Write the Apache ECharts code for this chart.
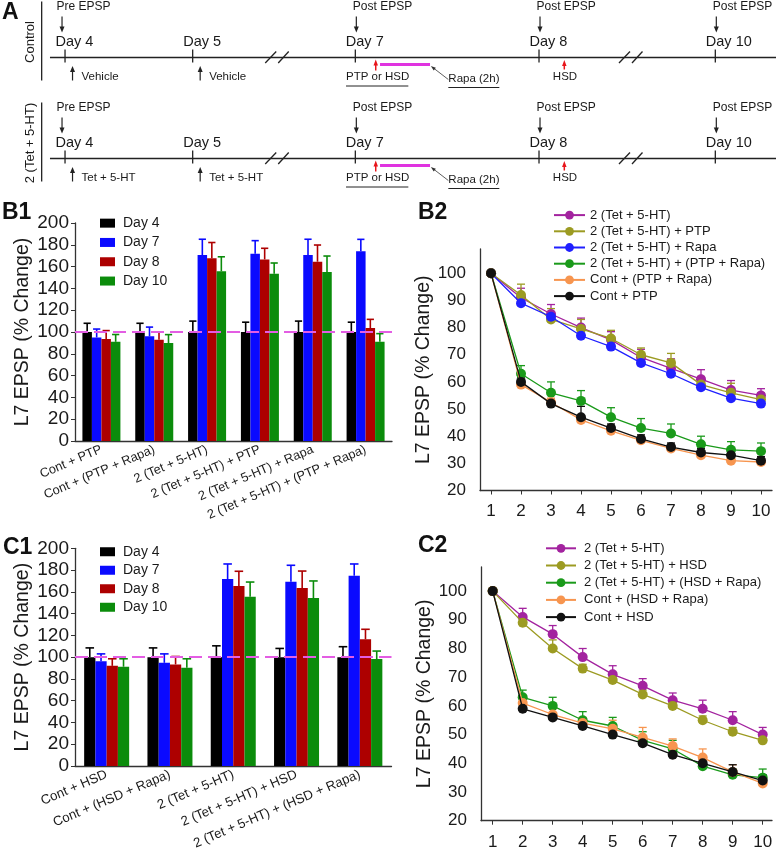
<!DOCTYPE html>
<html><head><meta charset="utf-8">
<script src="https://cdn.jsdelivr.net/npm/echarts@6/dist/echarts.min.js"></script>
<style>html,body{margin:0;padding:0;background:#fff}#c{width:776px;height:853px}</style>
</head><body><div id="c"></div>
<script>
// ================= DATA =================
// Panel A (schematic timeline)
const rowNames = ['Control', '2 (Tet + 5-HT)'];
const dayNames = ['Day 4', 'Day 5', 'Day 7', 'Day 8', 'Day 10'];
const epspNames = ['Pre EPSP', '', 'Post EPSP', 'Post EPSP', 'Post EPSP'];
const treatNames = [['Vehicle', 'Vehicle', '', '', ''], ['Tet + 5-HT', 'Tet + 5-HT', '', '', '']];
const dayPos = [8.38, 24.83, 45.79, 69.46, 92.18];   // schematic position along timeline (% width)
const breakPos = [35.66, 81.25];
const timelineStart = 6.44;
const rowLabelPos = 3.87;
const rowLinePos = 5.37;

// B1 / C1 bar charts
const dayLegend = ['Day 4', 'Day 7', 'Day 8', 'Day 10'];
const b1Cats = ['Cont + PTP', 'Cont + (PTP + Rapa)', '2 (Tet + 5-HT)', '2 (Tet + 5-HT) + PTP', '2 (Tet + 5-HT) + Rapa', '2 (Tet + 5-HT) + (PTP + Rapa)'];
const b1Day4 = [100, 100, 100, 100, 100, 100];
const b1Day7 = [95, 96, 170.6, 171.8, 170.6, 174];
const b1Day8 = [93.6, 92.8, 167.6, 166.6, 164.5, 103.6];
const b1Day10 = [91, 89.8, 155.7, 153.5, 155, 91];
const b1Day4Err = [8, 8, 10, 9, 10, 9];
const b1Day7Err = [7.7, 8.5, 14.5, 12, 14.5, 11];
const b1Day8Err = [7.7, 7.2, 14.5, 10.2, 15.3, 8];
const b1Day10Err = [6.7, 7.8, 13.3, 9.8, 14.7, 7.5];

const c1Cats = ['Cont + HSD', 'Cont + (HSD + Rapa)', '2 (Tet + 5-HT)', '2 (Tet + 5-HT) + HSD', '2 (Tet + 5-HT) + (HSD + Rapa)'];
const c1Day4 = [100, 100, 100, 100, 100];
const c1Day7 = [96.3, 94.8, 171.8, 169.3, 174.8];
const c1Day8 = [92, 93.3, 165.4, 163.5, 116.4];
const c1Day10 = [91.2, 90.2, 155.6, 154.3, 98.3];
const c1Day4Err = [8.5, 8.5, 10.4, 8, 9.6];
const c1Day7Err = [6.7, 8.2, 13.8, 15.1, 10.8];
const c1Day8Err = [6.5, 7.3, 13.5, 15.6, 9.2];
const c1Day10Err = [7.3, 8.3, 13.4, 15.7, 7.3];

// B2 / C2 line charts
const trials = [1, 2, 3, 4, 5, 6, 7, 8, 9, 10];
const lineTicks = [20, 30, 40, 50, 60, 70, 80, 90, 100];
const b2Names = ['2 (Tet + 5-HT)', '2 (Tet + 5-HT) + PTP', '2 (Tet + 5-HT) + Rapa', '2 (Tet + 5-HT) + (PTP + Rapa)', 'Cont + (PTP + Rapa)', 'Cont + PTP'];
const b2Tet = [100, 91, 85, 80, 75.5, 69, 65, 61, 57, 55];
const b2PTP = [100, 92, 83, 79.5, 76, 70, 67, 59, 56, 53.5];
const b2Rapa = [100, 89, 84, 77, 73, 67, 63, 58, 54, 52];
const b2Both = [100, 63, 56, 53, 47, 43, 41, 37, 35, 34.5];
const b2ContBoth = [100, 59, 52.5, 46, 42, 38.5, 35.5, 33, 31, 30.5];
const b2ContPTP = [100, 60, 52, 47, 43, 39, 36, 34, 33, 31];
const b2TetErr = [0, 3.5, 3.5, 3.5, 3, 3, 3.5, 3.5, 3.5, 2.5];
const b2PTPErr = [0, 4, 4, 3.5, 3, 2.5, 3.5, 3, 3.5, 2.5];
const b2RapaErr = [0, 1.5, 1.5, 1.5, 1.5, 1.5, 1.5, 1.5, 1.5, 1.5];
const b2BothErr = [0, 3, 4, 3.8, 3.5, 3.5, 3.5, 3, 3, 3];
const b2ContBothErr = [0, 1.5, 1.5, 1.5, 1.5, 1.5, 1.5, 1.5, 1.5, 1.5];
const b2ContPTPErr = [0, 1.5, 1.5, 4, 1.5, 1.5, 1.5, 1.5, 1.5, 1.5];

const c2Names = ['2 (Tet + 5-HT)', '2 (Tet + 5-HT) + HSD', '2 (Tet + 5-HT) + (HSD + Rapa)', 'Cont + (HSD + Rapa)', 'Cont + HSD'];
const c2Tet = [100, 91, 85, 77, 71, 67, 62, 59, 55, 50];
const c2HSD = [100, 89, 80, 73, 69, 64, 60, 55, 51, 48];
const c2Both = [100, 63, 60, 55, 53, 48, 45, 39, 36, 35];
const c2ContBoth = [100, 61, 57, 54, 52, 49, 46, 42, 37, 33];
const c2ContHSD = [100, 59, 56, 53, 50, 47, 43, 40, 37, 34];
const c2TetErr = [0, 3, 3, 3, 3, 2.5, 2.5, 3, 3, 2.5];
const c2HSDErr = [0, 1.5, 3, 1.5, 1.5, 1.5, 1.5, 1.5, 1.5, 1.5];
const c2BothErr = [0, 2.5, 3, 3, 3, 3, 3, 3, 2, 3];
const c2ContBothErr = [0, 2, 2, 2, 3, 3.5, 2.5, 3, 2.5, 2];
const c2ContHSDErr = [0, 1.5, 1.5, 1.5, 1.5, 1.5, 1.5, 1.5, 2.5, 2];

// ================= STYLE =================
const FF = '"Liberation Sans", Arial, Helvetica, sans-serif';
const TXT = '#1a1a1a';
const AX = '#333';
const barColors = ['#000000', '#0a0aff', '#ad0000', '#0b8c0b'];
const cTet = '#a3239f', cMid = '#9c9b22', cRapa = '#2020ff', cBoth = '#1a9a1a', cCont2 = '#f7954f', cCont = '#111111';
const dashColor = '#e35de3';

// ================= HELPERS =================
function seg(x1, y1, x2, y2, stroke, w) {
  return { type: 'line', shape: { x1, y1, x2, y2 }, style: { stroke, lineWidth: w } };
}
function arrow(x1, y1, x2, y2, stroke, w, hl, hw) {
  const dx = x2 - x1, dy = y2 - y1, L = Math.hypot(dx, dy), ux = dx / L, uy = dy / L;
  const bx = x2 - ux * hl, by = y2 - uy * hl;
  return [seg(x1, y1, bx + ux, by + uy, stroke, w),
    { type: 'polygon', shape: { points: [[x2, y2], [bx - uy * hw / 2, by + ux * hw / 2], [bx + uy * hw / 2, by - ux * hw / 2]] }, style: { fill: stroke } }];
}
function txt(x, y, text, size, extra) {
  return { type: 'text', x, y, style: Object.assign({ text, fontSize: size, fontFamily: FF, fill: TXT, align: 'left', verticalAlign: 'middle' }, extra || {}) };
}

function renderA(params, api) {
  const r = api.value(1), d = api.value(2);
  const c = api.coord([api.value(0), r]);
  const x = c[0], y0 = c[1] + 7;
  const k = [];
  if (d < 0) {
    const xe = api.coord([100, r])[0];
    k.push(seg(x, y0, xe, y0, '#222', 1.3));
    breakPos.forEach(bp => {
      const bx = api.coord([bp, r])[0];
      k.push(seg(bx - 11.5, y0 + 5.5, bx - 0.5, y0 - 6, '#222', 1.3));
      k.push(seg(bx + 1.5, y0 + 5.5, bx + 12, y0 - 6, '#222', 1.3));
    });
    const lx = api.coord([rowLabelPos, r])[0], vx = api.coord([rowLinePos, r])[0];
    k.push({ type: 'text', x: lx, y: y0 - 15.5, rotation: Math.PI / 2,
      style: { text: rowNames[r], fontSize: 13, fontFamily: FF, fill: TXT, align: 'center', verticalAlign: 'middle' } });
    k.push(seg(vx, y0 - 56, vx, y0 + 23, '#222', 1.3));
    return { type: 'group', children: k };
  }
  k.push(seg(x, y0 - 8, x, y0 + 5, '#222', 1.3));
  k.push(txt(x - 9.5, y0 - 16, dayNames[d], 14.5));
  if (epspNames[d]) {
    const ax = x + (d === 0 ? -3 : 1);
    k.push(...arrow(ax, y0 - 41, ax, y0 - 25, '#222', 1.2, 6, 5));
    k.push(txt(x + (d === 0 ? -8.5 : -2.5), y0 - 51, epspNames[d], 12));
  }
  const tr = treatNames[r][d];
  if (tr) {
    k.push(...arrow(x + 7.5, y0 + 23, x + 7.5, y0 + 8.5, '#222', 1.2, 6, 5));
    k.push(txt(x + 16.5, y0 + 19.5, tr, 11.5));
  }
  if (d === 2) {
    k.push(...arrow(x + 20.4, y0 + 13, x + 20.4, y0 + 2, '#e8151b', 1.5, 6, 4.5));
    k.push(seg(x + 24.7, y0 + 7, x + 74.7, y0 + 7, '#e033e0', 3));
    k.push(txt(x - 9.3, y0 + 19.5, 'PTP or HSD', 11.5));
    k.push(seg(x - 9.3, y0 + 28.5, x + 53, y0 + 28.5, '#222', 1));
    k.push(txt(x + 93, y0 + 21, 'Rapa (2h)', 11.5));
    k.push(seg(x + 93, y0 + 30, x + 144, y0 + 30, '#222', 1));
    k.push(...arrow(x + 93, y0 + 22, x + 75.5, y0 + 8.5, '#333', 0.8, 5, 3.5));
  }
  if (d === 3) {
    k.push(...arrow(x + 25.3, y0 + 12, x + 25.3, y0 + 2.5, '#e8151b', 1.5, 6, 4.5));
    k.push(txt(x + 26, y0 + 19.5, 'HSD', 11.5, { align: 'center' }));
  }
  return { type: 'group', children: k };
}

const aData = [];
rowNames.forEach((rn, r) => {
  aData.push([timelineStart, r, -1]);
  dayNames.forEach((dn, d) => aData.push([dayPos[d], r, d]));
});

function barErrRender(idx, barW, color) {
  return function (params, api) {
    const p0 = api.coord([api.value(0), api.value(1)]);
    const p1 = api.coord([api.value(0), api.value(1) + api.value(2)]);
    const x = p0[0] + (idx - 1.5) * barW;
    const h = barW * 0.38;
    return { type: 'group', children: [
      seg(x, p0[1], x, p1[1], color, 1.6),
      seg(x - h, p1[1], x + h, p1[1], color, 1.6)
    ] };
  };
}
function barSeries(axis, means, errs, barW) {
  const out = [];
  means.forEach((m, i) => {
    const s = { type: 'bar', name: dayLegend[i], xAxisIndex: axis, yAxisIndex: axis, data: m,
      barWidth: barW, barGap: '0%', itemStyle: { color: barColors[i] }, z: 2, silent: true };
    if (i === 0) s.markLine = { silent: true, symbol: ['none', 'none'], label: { show: false },
      lineStyle: { color: dashColor, type: [13, 6], width: 2 }, data: [{ yAxis: 100 }], z: 5 };
    out.push(s);
  });
  means.forEach((m, i) => {
    out.push({ type: 'custom', name: dayLegend[i] + ' err', xAxisIndex: axis, yAxisIndex: axis, z: 3, silent: true,
      data: m.map((v, j) => [j, v, errs[i][j]]), renderItem: barErrRender(i, barW, barColors[i]) });
  });
  return out;
}
function lineErrRender(color) {
  return function (params, api) {
    if (!api.value(2)) return null;
    const p0 = api.coord([api.value(0), api.value(1)]);
    const p1 = api.coord([api.value(0), api.value(1) + api.value(2)]);
    return { type: 'group', children: [
      seg(p0[0], p0[1], p0[0], p1[1], color, 1.3),
      seg(p0[0] - 4, p1[1], p0[0] + 4, p1[1], color, 1.3)
    ] };
  };
}
function lineSeries(axis, names, vals, errs, colors) {
  const out = [];
  vals.forEach((v, i) => {
    out.push({ type: 'custom', name: names[i] + ' err', xAxisIndex: axis, yAxisIndex: axis, z: 2, silent: true,
      data: trials.map((t, j) => [t, v[j], errs[i][j]]), renderItem: lineErrRender(colors[i]) });
  });
  vals.forEach((v, i) => {
    out.push({ type: 'line', name: names[i], xAxisIndex: axis, yAxisIndex: axis, z: 3 + i * 0.01, silent: true,
      data: trials.map((t, j) => [t, v[j]]), symbol: 'circle', symbolSize: 10,
      lineStyle: { color: colors[i], width: 1.3 }, itemStyle: { color: colors[i] } });
  });
  return out;
}

const yName = 'L7 EPSP (% Change)';
function barAxes(grid, cats, fs) {
  return {
    x: { type: 'category', gridIndex: grid, data: cats,
      axisLine: { lineStyle: { color: AX, width: 1.3 } }, axisTick: { show: false },
      axisLabel: { interval: 0, rotate: 23, fontSize: fs, fontFamily: FF, color: TXT, margin: 8 } },
    y: { type: 'value', gridIndex: grid, min: 0, max: 200, interval: 20,
      name: yName, nameLocation: 'middle', nameGap: 42, nameTextStyle: { fontSize: 19.5, fontFamily: FF, color: TXT },
      axisLine: { show: true, lineStyle: { color: AX, width: 1.3 } }, axisTick: { show: true, length: 4, lineStyle: { color: AX } },
      splitLine: { show: false }, axisLabel: { fontSize: 19, fontFamily: FF, color: TXT, margin: 6 } }
  };
}
function lineAxes(grid, xmin, xmax, ymax, nameGap, xMargin) {
  return {
    x: { type: 'value', gridIndex: grid, min: xmin, max: xmax,
      axisLine: { lineStyle: { color: AX, width: 1.3 } },
      axisTick: { show: true, length: 4, customValues: trials, lineStyle: { color: AX } },
      splitLine: { show: false },
      axisLabel: { customValues: trials, fontSize: 17, fontFamily: FF, color: TXT, margin: xMargin } },
    y: { type: 'value', gridIndex: grid, min: 20, max: ymax,
      name: yName, nameLocation: 'middle', nameGap: nameGap, nameTextStyle: { fontSize: 19.5, fontFamily: FF, color: TXT },
      axisLine: { show: true, lineStyle: { color: AX, width: 1.3 } }, axisTick: { show: false },
      splitLine: { show: false },
      axisLabel: { customValues: lineTicks, fontSize: 17, fontFamily: FF, color: TXT, margin: 14 } }
  };
}

const aB1 = barAxes(1, b1Cats, 12.7);
const aB2 = lineAxes(2, 0.633, 10.367, 108.95, 35, 12);
const aC1 = barAxes(3, c1Cats, 13.2);
const aC2 = lineAxes(4, 0.61, 10.31, 108.4, 38, 13);

const titleStyle = { fontSize: 23, fontWeight: 'bold', fontFamily: FF, color: '#111' };
const option = {
  animation: false,
  backgroundColor: '#fff',
  title: [
    { text: 'A', left: 2, top: 1, padding: 0, textStyle: titleStyle },
    { text: 'B1', left: 2, top: 201, padding: 0, textStyle: titleStyle },
    { text: 'B2', left: 418, top: 201, padding: 0, textStyle: titleStyle },
    { text: 'C1', left: 3, top: 536, padding: 0, textStyle: titleStyle },
    { text: 'C2', left: 418, top: 534, padding: 0, textStyle: titleStyle }
  ],
  legend: [
    { data: dayLegend, orient: 'vertical', left: 100, top: 213.5, padding: 0, itemGap: 0, itemWidth: 15, itemHeight: 9,
      icon: 'rect', selectedMode: false, textStyle: { fontSize: 14, fontFamily: FF, color: TXT, lineHeight: 19.3, padding: [0, 0, 0, 3] } },
    { data: dayLegend, orient: 'vertical', left: 100, top: 542.5, padding: 0, itemGap: 0, itemWidth: 15, itemHeight: 9,
      icon: 'rect', selectedMode: false, textStyle: { fontSize: 14, fontFamily: FF, color: TXT, lineHeight: 18.5, padding: [0, 0, 0, 3] } },
    { data: b2Names, orient: 'vertical', left: 553, top: 207, padding: 0, itemGap: 0, itemWidth: 31, itemHeight: 11,
      selectedMode: false, textStyle: { fontSize: 13, fontFamily: FF, color: TXT, lineHeight: 16.2 } },
    { data: c2Names, orient: 'vertical', left: 545, top: 539.7, padding: 0, itemGap: 0, itemWidth: 30, itemHeight: 11,
      selectedMode: false, textStyle: { fontSize: 13, fontFamily: FF, color: TXT, lineHeight: 17.2, padding: [0, 0, 0, 3] } }
  ],
  grid: [
    { left: 0, top: 0, width: 776, height: 202 },
    { left: 75, top: 223, width: 317, height: 218 },
    { left: 480, top: 249, width: 292, height: 241.5 },
    { left: 75, top: 548.3, width: 316.5, height: 217.7 },
    { left: 481, top: 567, width: 291, height: 253.7 }
  ],
  xAxis: [
    { type: 'value', gridIndex: 0, min: 0, max: 100, show: false },
    aB1.x, aB2.x, aC1.x, aC2.x
  ],
  yAxis: [
    { type: 'category', gridIndex: 0, data: rowNames, inverse: true, show: false },
    aB1.y, aB2.y, aC1.y, aC2.y
  ],
  series: [
    { type: 'custom', name: 'schematic', xAxisIndex: 0, yAxisIndex: 0, data: aData, renderItem: renderA, silent: true, clip: false },
    ...barSeries(1, [b1Day4, b1Day7, b1Day8, b1Day10], [b1Day4Err, b1Day7Err, b1Day8Err, b1Day10Err], 9.5),
    ...barSeries(3, [c1Day4, c1Day7, c1Day8, c1Day10], [c1Day4Err, c1Day7Err, c1Day8Err, c1Day10Err], 11.25),
    ...lineSeries(2, b2Names, [b2Tet, b2PTP, b2Rapa, b2Both, b2ContBoth, b2ContPTP],
      [b2TetErr, b2PTPErr, b2RapaErr, b2BothErr, b2ContBothErr, b2ContPTPErr], [cTet, cMid, cRapa, cBoth, cCont2, cCont]),
    ...lineSeries(4, c2Names, [c2Tet, c2HSD, c2Both, c2ContBoth, c2ContHSD],
      [c2TetErr, c2HSDErr, c2BothErr, c2ContBothErr, c2ContHSDErr], [cTet, cMid, cBoth, cCont2, cCont])
  ]
};
const chart = echarts.init(document.getElementById('c'), null, { renderer: 'canvas' });
chart.setOption(option);
</script>
</body></html>
